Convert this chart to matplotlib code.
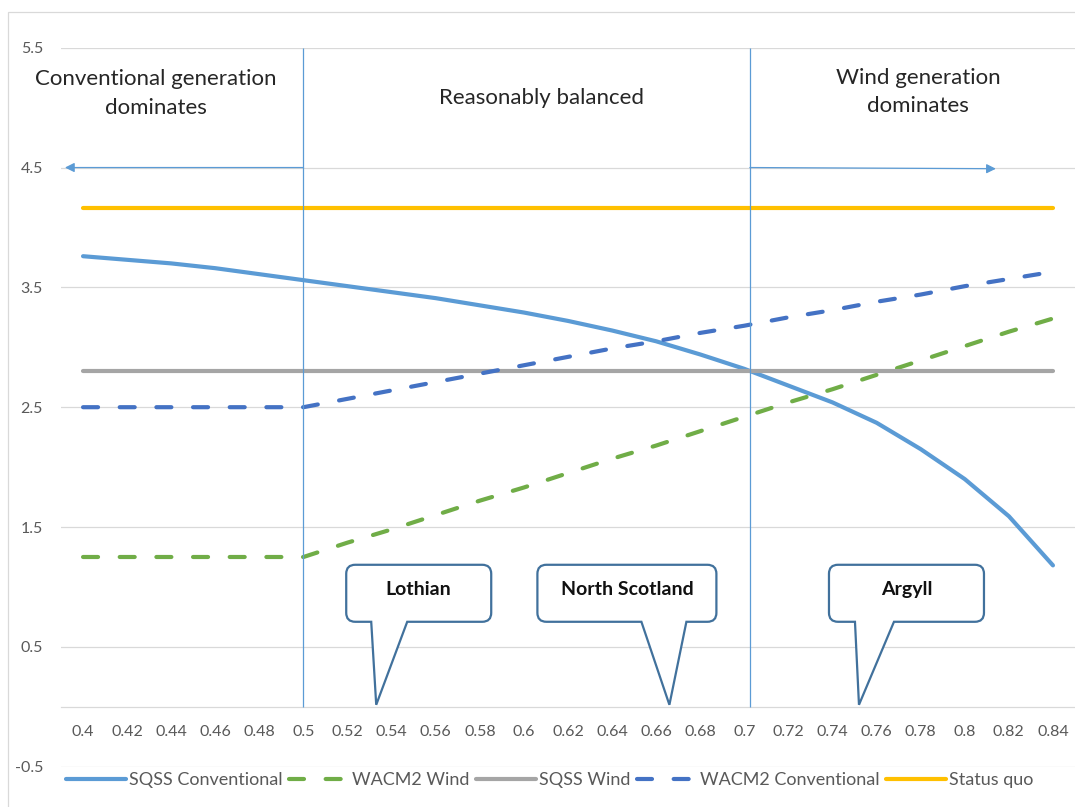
import matplotlib
matplotlib.use("Agg")
import matplotlib.pyplot as plt
from matplotlib.lines import Line2D
from matplotlib.patches import PathPatch, Rectangle
from matplotlib.path import Path
from matplotlib.transforms import IdentityTransform

plt.rcParams['font.family'] = ['Lato', 'DejaVu Sans']

# generation ratio (wind share) on the category axis
ratio = [0.40, 0.42, 0.44, 0.46, 0.48, 0.50, 0.52, 0.54, 0.56, 0.58, 0.60, 0.62,
         0.64, 0.66, 0.68, 0.70, 0.72, 0.74, 0.76, 0.78, 0.80, 0.82, 0.84]
ratio_labels = ['0.4', '0.42', '0.44', '0.46', '0.48', '0.5', '0.52', '0.54', '0.56',
                '0.58', '0.6', '0.62', '0.64', '0.66', '0.68', '0.7', '0.72', '0.74',
                '0.76', '0.78', '0.8', '0.82', '0.84']

sqss_conventional = [3.76, 3.73, 3.70, 3.66, 3.61, 3.56, 3.51, 3.46, 3.41, 3.35, 3.29, 3.22,
                     3.14, 3.05, 2.94, 2.82, 2.68, 2.54, 2.37, 2.15, 1.90, 1.59, 1.18]
wacm2_wind = [1.25, 1.25, 1.25, 1.25, 1.25, 1.25, 1.37, 1.48, 1.60, 1.72, 1.83, 1.95,
              2.07, 2.18, 2.30, 2.42, 2.54, 2.65, 2.77, 2.89, 3.01, 3.13, 3.24]
sqss_wind = [2.80, 2.80, 2.80, 2.80, 2.80, 2.80, 2.80, 2.80, 2.80, 2.80, 2.80, 2.80,
             2.80, 2.80, 2.80, 2.80, 2.80, 2.80, 2.80, 2.80, 2.80, 2.80, 2.80]
wacm2_conventional = [2.50, 2.50, 2.50, 2.50, 2.50, 2.50, 2.57, 2.64, 2.71, 2.78, 2.85, 2.92,
                      2.99, 3.05, 3.12, 3.18, 3.25, 3.31, 3.38, 3.44, 3.51, 3.57, 3.63]
status_quo = [4.16, 4.16, 4.16, 4.16, 4.16, 4.16, 4.16, 4.16, 4.16, 4.16, 4.16, 4.16,
              4.16, 4.16, 4.16, 4.16, 4.16, 4.16, 4.16, 4.16, 4.16, 4.16, 4.16]

region_names = ['Lothian', 'North Scotland', 'Argyll']
region_ratio = [0.533, 0.666, 0.752]

W, H = 1075, 807
fig = plt.figure(figsize=(W / 100, H / 100), dpi=100)
ax = fig.add_axes([61 / W, (H - 766.7) / H, (W - 61) / W, (766.7 - 47.7) / H])

lw = 3.0
dash = (3.6, 5.2)
series = [
    ('SQSS Conventional', sqss_conventional, '#5B9BD5', None),
    ('WACM2 Wind', wacm2_wind, '#70AD47', dash),
    ('SQSS Wind', sqss_wind, '#A5A5A5', None),
    ('WACM2 Conventional', wacm2_conventional, '#4472C4', dash),
    ('Status quo', status_quo, '#FFC000', None),
]
handles = []
for name, vals, col, ds in series:
    line, = ax.plot(ratio, vals, color=col, lw=lw, solid_capstyle='round',
                    dash_capstyle='round', label=name, zorder=3)
    if ds:
        line.set_dashes(ds)
    h = Line2D([], [], color=col, lw=lw, solid_capstyle='round', dash_capstyle='round')
    if ds:
        h.set_dashes(ds)
    handles.append(h)

ax.set_xlim(0.39, 0.85)
ax.set_ylim(-0.5, 5.5)
ax.set_xticks(ratio)
ax.set_xticklabels(ratio_labels)
ax.set_yticks([-0.5, 0.5, 1.5, 2.5, 3.5, 4.5, 5.5])
ax.set_yticklabels(['-0.5', '0.5', '1.5', '2.5', '3.5', '4.5', '5.5'])
ax.tick_params(axis='both', length=0, labelcolor='#595959', labelsize=11.5)
ax.tick_params(axis='x', pad=13)
ax.tick_params(axis='y', pad=13)
for s in ['top', 'right', 'left']:
    ax.spines[s].set_visible(False)
ax.spines['bottom'].set_position(('data', 0))
ax.spines['bottom'].set_color('#D9D9D9')
ax.spines['bottom'].set_linewidth(0.9)
ax.yaxis.grid(True, color='#D9D9D9', lw=0.9)
ax.set_axisbelow(True)

# region dividers and direction arrows
div_col = '#5B9BD5'
ax.vlines([0.5, 0.7025], 0, 5.5, color=div_col, lw=0.9, zorder=4)
ax.annotate('', xy=(0.3918, 4.5), xytext=(0.5, 4.5),
            arrowprops=dict(arrowstyle='-|>', color=div_col, lw=0.9,
                            mutation_scale=14, shrinkA=0, shrinkB=0), zorder=4)
ax.annotate('', xy=(0.8141, 4.49), xytext=(0.7025, 4.5),
            arrowprops=dict(arrowstyle='-|>', color=div_col, lw=0.9,
                            mutation_scale=14, shrinkA=0, shrinkB=0), zorder=4)

txt_col = '#262626'
ax.text(0.4331, 5.12, 'Conventional generation\ndominates', ha='center', va='center',
        fontsize=16, color=txt_col, linespacing=1.55)
ax.text(0.6082, 5.08, 'Reasonably balanced', ha='center', va='center',
        fontsize=16, color=txt_col)
ax.text(0.7787, 5.13, 'Wind generation\ndominates', ha='center', va='center',
        fontsize=16, color=txt_col, linespacing=1.5)

# callouts pointing at each region's ratio on the axis
# (box left, box right, pointer base left, pointer base right) in pixels from the tip
callout_geom = [(-30, 115, -5, 31), (-132, 47, -28, 17), (-30, 125, -4, 35)]
box_bottom, box_top, rad = 83, 140, 9


def callout_path(tx, ty, geom):
    x0, x1, b0, b1 = geom
    x0 += tx; x1 += tx; b0 += tx; b1 += tx
    y0 = ty + box_bottom
    y1 = ty + box_top
    verts = [(b0, y0), (tx, ty), (b1, y0),
             (x1 - rad, y0), (x1, y0), (x1, y0 + rad),
             (x1, y1 - rad), (x1, y1), (x1 - rad, y1),
             (x0 + rad, y1), (x0, y1), (x0, y1 - rad),
             (x0, y0 + rad), (x0, y0), (x0 + rad, y0),
             (b0, y0)]
    codes = [Path.MOVETO, Path.LINETO, Path.LINETO,
             Path.LINETO, Path.CURVE3, Path.CURVE3,
             Path.LINETO, Path.CURVE3, Path.CURVE3,
             Path.LINETO, Path.CURVE3, Path.CURVE3,
             Path.LINETO, Path.CURVE3, Path.CURVE3,
             Path.CLOSEPOLY]
    return Path(verts, codes)


for name, r, geom in zip(region_names, region_ratio, callout_geom):
    tx, ty = ax.transData.transform((r, 0))
    ty += 2
    patch = PathPatch(callout_path(tx, ty, geom), facecolor='white', edgecolor='#41719C',
                      lw=1.6, transform=IdentityTransform(), zorder=6, clip_on=False)
    fig.add_artist(patch)
    cx = tx + (geom[0] + geom[1]) / 2
    fig.text(cx, ty + 115, name, ha='center', va='center', fontsize=14,
             fontweight='bold', color='#111111', transform=IdentityTransform(), zorder=7)

fig.legend(handles, [s[0] for s in series], loc='center left',
           bbox_to_anchor=(66 / W, (H - 780) / H), ncol=5, frameon=False,
           fontsize=13, labelcolor='#595959', handlelength=3.3, handletextpad=0.2,
           columnspacing=0.35, borderaxespad=0, borderpad=0)

# chart area outline
fig.add_artist(Rectangle((8 / W, -0.1), 1.2, 1.1 - 12 / H, transform=fig.transFigure,
                         fill=False, ec='#D9D9D9', lw=0.9))

fig.savefig('out.png', dpi=100)
